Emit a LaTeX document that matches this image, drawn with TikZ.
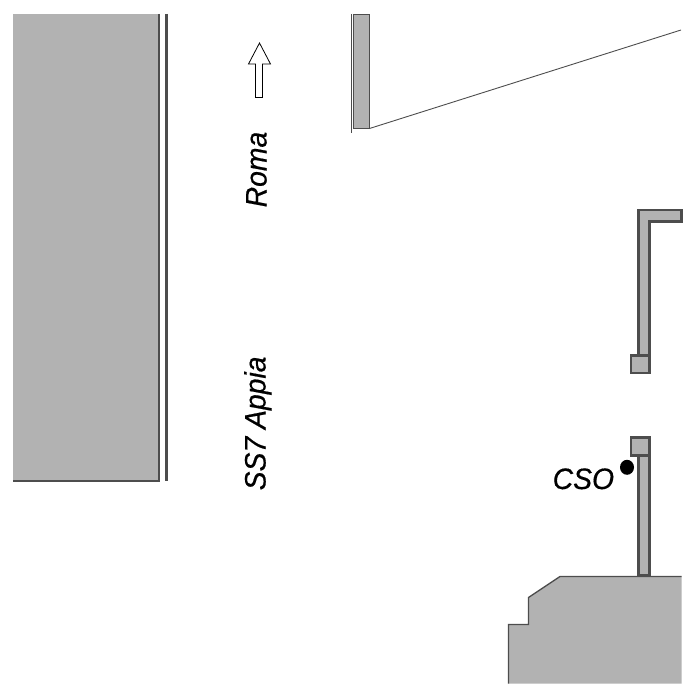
\documentclass[tikz,border=0pt]{standalone}
\usepackage{fontspec}
\setmainfont[ItalicFeatures={FakeBold=0.5,FakeStretch=0.96}]{Liberation Sans}
\definecolor{wallfill}{HTML}{B2B2B2}
\definecolor{wallline}{HTML}{4D4D4D}
\tikzset{
  x=1pt,y=-1pt,
  wall/.style={fill=wallfill,draw=wallline,line width=2.8pt,line join=miter},
  thinwall/.style={fill=wallfill,draw=wallline,line width=1.3pt,line join=miter},
  edge/.style={draw=wallline,line width=1.3pt},
  thick edge/.style={draw=wallline,line width=2.4pt},
  hairline/.style={draw=wallline,line width=0.9pt},
  label/.style={inner sep=0pt,font=\fontsize{29.5}{29.5}\selectfont\itshape,text=black}
}
\begin{document}
\begin{tikzpicture}
\useasboundingbox (0,0) rectangle (700,700);
% left block
\fill[wallfill] (13,14) rectangle (159,481);
\draw[thick edge] (159,14) -- (159,481) -- (13,481);
\draw[draw=wallline,line width=2.8pt] (166.5,14) -- (166.5,481);
% arrow
\draw[draw=black,fill=white,line width=0.8pt] (259.5,43) -- (270.5,64) -- (262.5,64) -- (262.5,97.5) -- (255.5,97.5) -- (255.5,64) -- (248.5,64) -- cycle;
% labels
\node[label,rotate=90,anchor=base west] (roma) at (266.5,207.5) {Roma};
\node[label,rotate=90,anchor=base west] (appia) at (265.5,490.5) {SS7 Appia};
\node[label,anchor=base west] (cso) at (552.5,489) {CSO};
% upper block
\draw[thinwall] (353.5,14.5) rectangle (369.5,128.5);
\draw[hairline] (351.5,14) -- (351.5,133);
\draw[hairline] (369.5,128.5) -- (681,30);
% upper right wall
\draw[wall] (638.5,355.5) -- (638.5,210) -- (681.5,210) -- (681.5,221.5) -- (649.5,221.5) -- (649.5,355.5);
\draw[wall] (631,355.5) rectangle (649.5,373);
% lower right wall
\draw[wall] (638.5,456) -- (638.5,575.5) -- (649.5,575.5) -- (649.5,456);
\draw[wall] (631,437.5) rectangle (649.5,455.5);
\fill[black] (627,467.3) ellipse [x radius=7,y radius=7.5];
% bottom block
\fill[wallfill] (508.5,624.5) -- (528.5,624.5) -- (528.5,597.5) -- (560,576.5) -- (681.7,576.5) -- (681.7,683.7) -- (508.5,683.7) -- cycle;
\draw[edge] (508.5,683.7) -- (508.5,624.5) -- (528.5,624.5) -- (528.5,597.5) -- (560,576.5) -- (681.7,576.5);
\end{tikzpicture}
\end{document}
